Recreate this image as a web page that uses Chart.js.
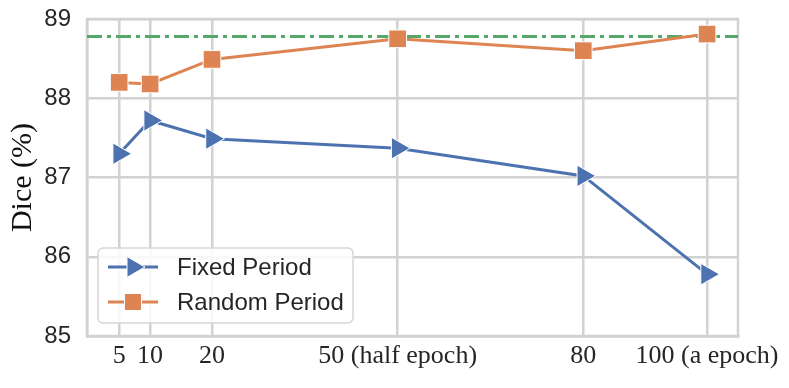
<!DOCTYPE html>
<html>
<head>
<meta charset="utf-8">
<script src="https://cdn.jsdelivr.net/npm/chart.js@4/dist/chart.umd.min.js"></script>
<style>
  html, body { margin: 0; padding: 0; background: #fff; }
</style>
</head>
<body>
<canvas id="chart" width="789" height="388"></canvas>
<script>
// data
const periods = [5, 10, 20, 50, 80, 100];
const tickLabels = ['5', '10', '20', '50 (half epoch)', '80', '100 (a epoch)'];
const fixedDice = [87.30, 87.72, 87.49, 87.37, 87.02, 85.78];
const randomDice = [88.20, 88.18, 88.49, 88.75, 88.60, 88.81];
const baselineDice = 88.78;
const xMin = -0.2, xMax = 105;
const yMin = 85, yMax = 89;

const BLUE = '#4C72B0', ORANGE = '#DD8452', GREEN = '#55A868';
const GRID = '#d2d2d2', TEXT = '#262626';
const SANS = '"Liberation Sans", Arial, sans-serif';
const SERIF = '"Liberation Serif", "Times New Roman", serif';

const pts = (ys) => periods.map((x, i) => ({ x, y: ys[i] }));

// top/right spines like matplotlib
const frame = {
  id: 'frame',
  beforeDatasetsDraw(c) {
    const { left, right, top, bottom } = c.chartArea;
    const ctx = c.ctx;
    ctx.save();
    ctx.strokeStyle = GRID;
    ctx.lineWidth = 2.5;
    ctx.strokeRect(left, top, right - left, bottom - top);
    ctx.restore();
  }
};

// legend drawn inside the plot, lower left
const innerLegend = {
  id: 'innerLegend',
  afterDraw(c) {
    const ctx = c.ctx;
    const a = c.chartArea;
    const x0 = a.left + 11, y1 = a.bottom - 13;
    const w = 255, h = 75, y0 = y1 - h;
    ctx.save();
    ctx.beginPath();
    ctx.roundRect(x0, y0, w, h, 5);
    ctx.fillStyle = 'rgba(255,255,255,0.85)';
    ctx.fill();
    ctx.strokeStyle = '#d6d6d6';
    ctx.lineWidth = 1.5;
    ctx.stroke();
    const items = [
      { label: 'Fixed Period', color: BLUE, style: 'triangle', rot: 90, r: 12 },
      { label: 'Random Period', color: ORANGE, style: 'rect', rot: 0, r: 12 }
    ];
    items.forEach((it, i) => {
      const cy = y0 + 19 + i * 35;
      ctx.strokeStyle = it.color;
      ctx.lineWidth = 3;
      ctx.beginPath();
      ctx.moveTo(x0 + 10, cy);
      ctx.lineTo(x0 + 60, cy);
      ctx.stroke();
      ctx.fillStyle = it.color;
      ctx.strokeStyle = '#fff';
      ctx.lineWidth = 1;
      Chart.helpers.drawPoint(ctx, { pointStyle: it.style, radius: it.r, rotation: it.rot, borderWidth: 1 }, x0 + 35, cy);
      ctx.fillStyle = TEXT;
      ctx.font = '24px ' + SANS;
      ctx.textBaseline = 'middle';
      ctx.fillText(it.label, x0 + 79, cy + 1);
    });
    ctx.restore();
  }
};

new Chart(document.getElementById('chart'), {
  type: 'line',
  data: {
    datasets: [
      {
        label: 'Fixed Period', data: pts(fixedDice),
        borderColor: BLUE, backgroundColor: BLUE, borderWidth: 3,
        pointStyle: 'triangle', pointRotation: 90, pointRadius: 12.5,
        pointBorderColor: '#fff', pointBorderWidth: 1, clip: false
      },
      {
        label: 'Random Period', data: pts(randomDice),
        borderColor: ORANGE, backgroundColor: ORANGE, borderWidth: 3,
        pointStyle: 'rect', pointRadius: 12.5,
        pointBorderColor: '#fff', pointBorderWidth: 1, clip: false
      },
      {
        label: 'baseline', data: [{ x: xMin, y: baselineDice }, { x: xMax, y: baselineDice }],
        borderColor: GREEN, borderWidth: 3, borderDash: [15, 5, 4, 5],
        pointRadius: 0
      }
    ]
  },
  options: {
    responsive: false,
    animation: false,
    devicePixelRatio: 1,
    layout: { padding: { left: 0, right: 51, top: 19, bottom: 0 } },
    plugins: { legend: { display: false }, tooltip: { enabled: false } },
    scales: {
      x: {
        type: 'linear', min: xMin, max: xMax,
        afterBuildTicks: (s) => { s.ticks = periods.map(v => ({ value: v })); },
        afterFit: (s) => { s.height = 52; s.paddingLeft = 0; s.paddingRight = 0; },
        ticks: {
          callback: (v) => tickLabels[periods.indexOf(v)],
          font: { family: SERIF, size: 26 }, color: TEXT,
          maxRotation: 0, autoSkip: false, padding: 5
        },
        grid: { color: GRID, lineWidth: 2.5, drawTicks: false },
        border: { color: GRID, width: 2.5 }
      },
      y: {
        min: yMin, max: yMax,
        afterFit: (s) => { s.width = 87; s.paddingTop = 0; s.paddingBottom = 0; },
        ticks: { stepSize: 1, font: { family: SANS, size: 24 }, color: TEXT, padding: 16 },
        grid: { color: GRID, lineWidth: 2.5, drawTicks: false },
        border: { color: GRID, width: 2.5 },
        title: { display: true, text: 'Dice (%)', font: { family: SERIF, size: 30 }, color: '#111', padding: { top: 5, bottom: 0 } }
      }
    }
  },
  plugins: [frame, innerLegend]
});
</script>
</body>
</html>
